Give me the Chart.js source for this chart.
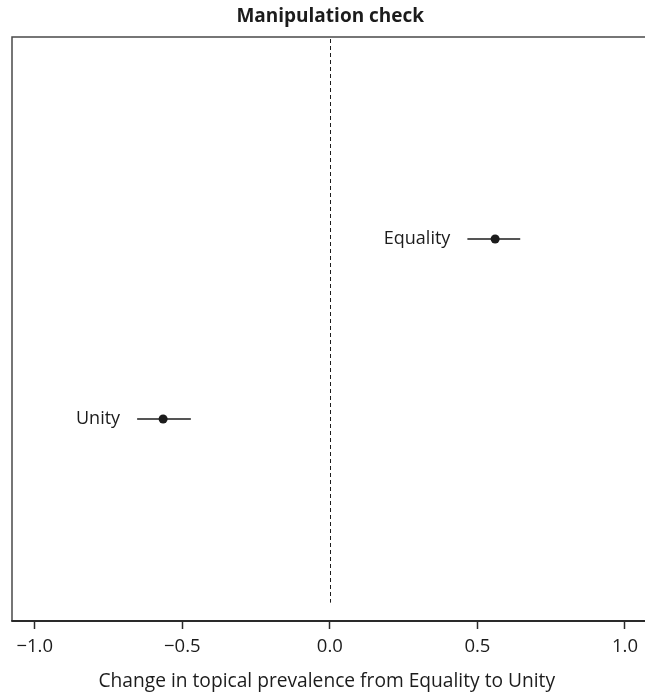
<!DOCTYPE html>
<html>
<head>
<meta charset="utf-8">
<script src="https://cdn.jsdelivr.net/npm/chart.js@4.4.0/dist/chart.umd.min.js"></script>
<style>
    html, body { margin: 0; padding: 0; background: #fff; }
    #wrap { width: 645px; height: 693px; position: relative; }
</style>
</head>
<body>
<div id="wrap"><canvas id="chart"></canvas></div>
<script>
// Data
const categories = ['Unity', 'Equality'];
const estimates = [-0.565, 0.560];
const lowerCI = [-0.653, 0.466];
const upperCI = [-0.471, 0.645];
const tickValues = [-1.0, -0.5, 0.0, 0.5, 1.0];

const INK = '#1c1c1c';
const FONT = "'Open Sans', 'DejaVu Sans', sans-serif";

// Error bar segments, one dataset per row
const errorSets = categories.map((name, i) => ({
    label: name + ' CI',
    data: [{ x: lowerCI[i], y: i + 1 }, { x: upperCI[i], y: i + 1 }],
    showLine: true,
    borderColor: INK,
    borderWidth: 1.5,
    pointRadius: 0,
    order: 2
}));

const pointSet = {
    label: 'Estimate',
    data: categories.map((name, i) => ({ x: estimates[i], y: i + 1 })),
    pointRadius: 4.5,
    pointBackgroundColor: INK,
    pointBorderColor: INK,
    pointBorderWidth: 0,
    order: 1
};

// Box frame, zero line and row labels
const decor = {
    id: 'decor',
    beforeDatasetsDraw(chart) {
        const { ctx, chartArea: a, scales } = chart;
        ctx.save();
        // left + top frame (plot is cropped on the right)
        ctx.strokeStyle = '#4a4a4a';
        ctx.lineWidth = 1.5;
        ctx.beginPath();
        ctx.moveTo(a.left, a.bottom);
        ctx.lineTo(a.left, a.top);
        ctx.lineTo(chart.width, a.top);
        ctx.stroke();
        // bottom axis line
        ctx.strokeStyle = '#2a2a2a';
        ctx.lineWidth = 2;
        ctx.beginPath();
        ctx.moveTo(a.left - 0.75, a.bottom);
        ctx.lineTo(chart.width, a.bottom);
        ctx.stroke();
        // dashed reference at 0
        const x0 = Math.round(scales.x.getPixelForValue(0)) + 0.5;
        ctx.strokeStyle = INK;
        ctx.lineWidth = 1;
        ctx.setLineDash([4, 3]);
        ctx.beginPath();
        ctx.moveTo(x0, a.top + 2);
        ctx.lineTo(x0, scales.y.getPixelForValue(-0.02));
        ctx.stroke();
        ctx.restore();
    },
    afterDatasetsDraw(chart) {
        const { ctx, scales } = chart;
        ctx.save();
        ctx.fillStyle = INK;
        ctx.font = '18px ' + FONT;
        ctx.textAlign = 'right';
        ctx.textBaseline = 'middle';
        categories.forEach((name, i) => {
            const px = scales.x.getPixelForValue(lowerCI[i]) - 17;
            const py = scales.y.getPixelForValue(i + 1);
            ctx.fillText(name, px, py);
        });
        ctx.restore();
    }
};

new Chart(document.getElementById('chart'), {
    type: 'scatter',
    data: { datasets: [...errorSets, pointSet] },
    plugins: [decor],
    options: {
        responsive: true,
        maintainAspectRatio: false,
        animation: false,
        devicePixelRatio: 1,
        layout: { autoPadding: false, padding: { left: 12, right: -3.5, top: 0, bottom: 0 } },
        plugins: {
            legend: { display: false },
            tooltip: { enabled: false },
            title: {
                display: true,
                text: 'Manipulation check',
                color: INK,
                font: { family: FONT, size: 19, weight: 'bold' },
                padding: { top: 5, bottom: 9.2 }
            }
        },
        scales: {
            x: {
                type: 'linear',
                min: -1.077,
                max: 1.056,
                afterBuildTicks(scale) {
                    scale.ticks = tickValues.map(v => ({ value: v }));
                },
                afterFit(scale) {
                    scale.height = 72;
                },
                border: { display: false },
                grid: {
                    drawOnChartArea: false,
                    drawTicks: true,
                    tickLength: 8,
                    tickColor: '#2a2a2a',
                    tickWidth: 1.5
                },
                ticks: {
                    color: INK,
                    padding: 7,
                    maxRotation: 0,
                    autoSkip: false,
                    font: { family: FONT, size: 18.5 },
                    callback: v => v.toFixed(1).replace('-', '\u2212')
                },
                title: {
                    display: true,
                    text: 'Change in topical prevalence from Equality to Unity',
                    color: INK,
                    font: { family: FONT, size: 19.2 },
                    padding: { top: 0, bottom: 0 }
                }
            },
            y: {
                type: 'linear',
                display: false,
                min: -0.122,
                max: 3.122
            }
        }
    }
});
</script>
</body>
</html>
